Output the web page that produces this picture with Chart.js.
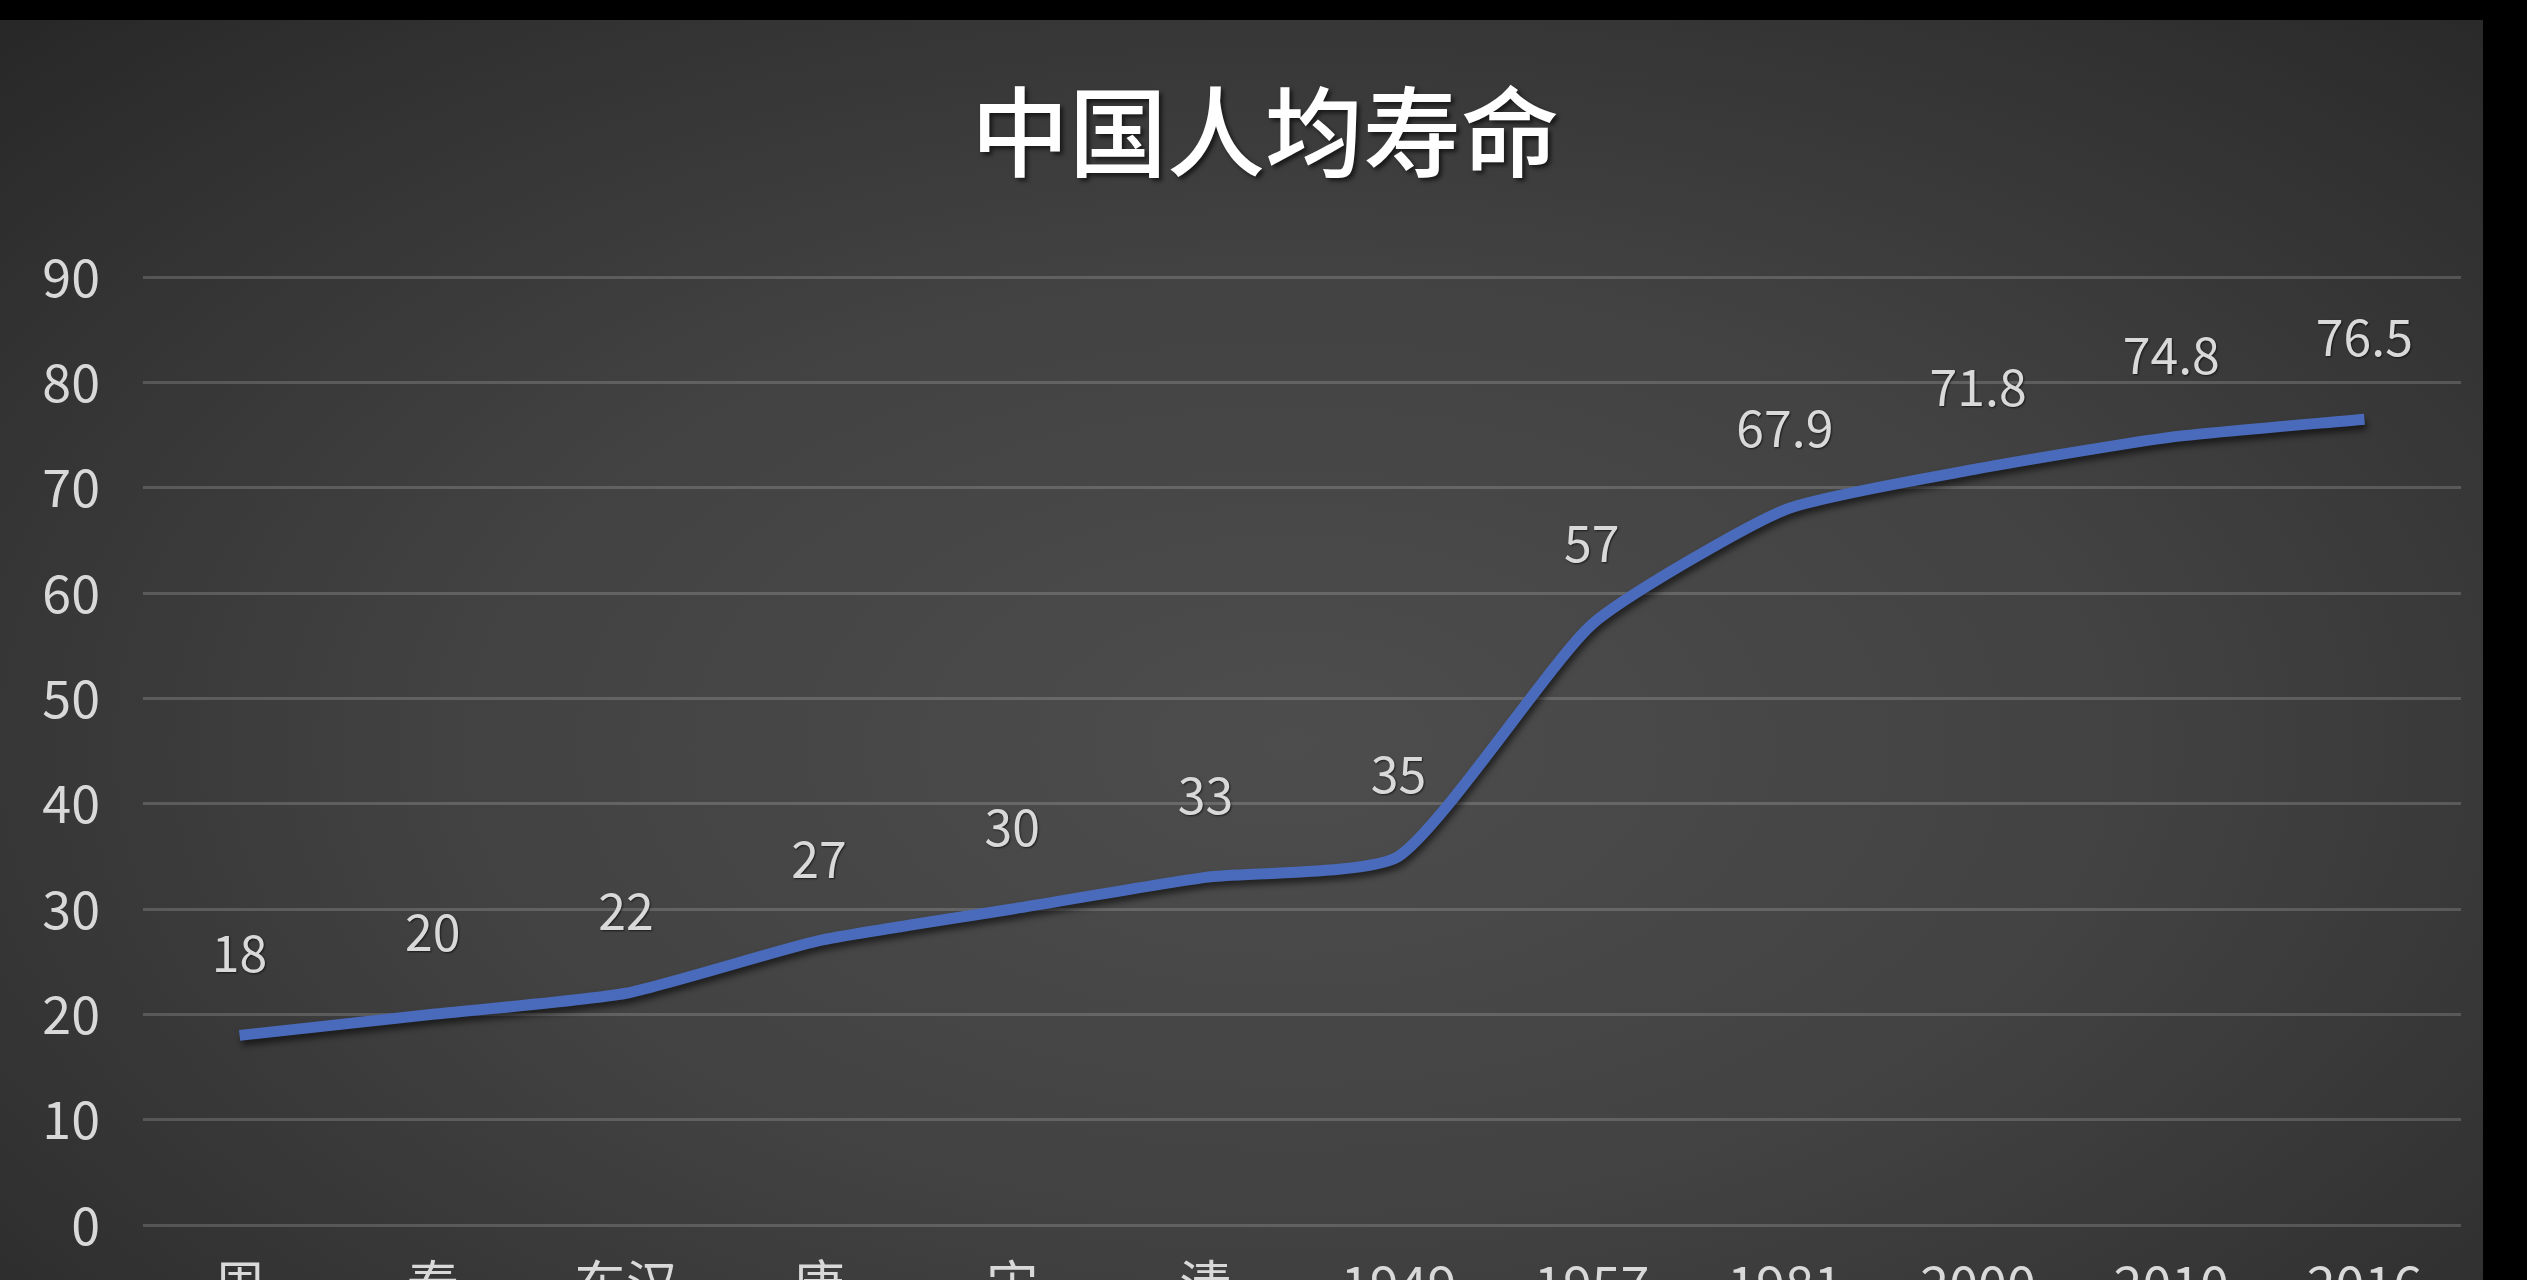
<!DOCTYPE html>
<html>
<head>
<meta charset="utf-8">
<script src="https://cdn.jsdelivr.net/npm/chart.js@4.4.1/dist/chart.umd.min.js"></script>
<style>
html,body{margin:0;padding:0;background:#000;overflow:hidden;width:2527px;height:1280px;}
#wrap{position:absolute;left:0;top:20px;width:2483px;height:1320px;
  background:radial-gradient(ellipse 75% 80% at 52% 55%, #4d4d4d 0%, #424242 45%, #313131 80%, #262626 100%);}
</style>
</head>
<body>
<div id="wrap"><canvas id="myChart" width="2483" height="1320"></canvas></div>
<script>
var chartTitle="中国人均寿命";
var labels=["周","秦","东汉","唐","宋","清","1949","1957","1981","2000","2010","2016"];
var lifeValues=[18,20,22,27,30,33,35,57,67.9,71.8,74.8,76.5];
var yMin=0,yMax=90,yStep=10;

var fontFam='"Noto Sans CJK SC", "Noto Sans", sans-serif';

// title + value labels drawn on the canvas
var extras={
  id:"extras",
  beforeDatasetDraw:function(chart){
    var ctx=chart.ctx;
    ctx.save();
    ctx.shadowColor="rgba(0,0,0,0.55)";
    ctx.shadowBlur=6;
    ctx.shadowOffsetX=2;
    ctx.shadowOffsetY=5;
  },
  afterDatasetDraw:function(chart){
    chart.ctx.restore();
  },
  afterDraw:function(chart){
    var ctx=chart.ctx;
    ctx.save();
    ctx.font="500 98px "+fontFam;
    ctx.textAlign="center";
    ctx.textBaseline="middle";
    ctx.shadowColor="rgba(0,0,0,0.6)";
    ctx.shadowBlur=4;
    ctx.shadowOffsetX=3;
    ctx.shadowOffsetY=3;
    ctx.fillStyle="#ffffff";
    ctx.fillText(chartTitle,1265,112);
    ctx.shadowBlur=2;
    ctx.shadowOffsetX=1;
    ctx.shadowOffsetY=1;
    ctx.font="50px "+fontFam;
    ctx.fillStyle="#d9d9d9";
    var meta=chart.getDatasetMeta(0);
    meta.data.forEach(function(pt,i){
      ctx.fillText(String(lifeValues[i]),pt.x,pt.y-82);
    });
    ctx.restore();
  }
};

var config={
  type:"line",
  data:{
    labels:labels,
    datasets:[{
      label:"人均寿命",
      data:lifeValues,
      borderColor:"#4a6bbb",
      borderWidth:11,
      pointRadius:0,
      tension:0.18,
      fill:false
    }]
  },
  options:{
    responsive:false,
    animation:false,
    devicePixelRatio:1,
    layout:{padding:{top:257,right:22,left:0,bottom:0}},
    plugins:{legend:{display:false},title:{display:false},tooltip:{enabled:false}},
    scales:{
      x:{
        offset:true,
        grid:{display:false,drawTicks:false},
        border:{display:false},
        ticks:{color:"#d9d9d9",padding:28,font:{family:fontFam,size:52},maxRotation:0},
        afterFit:function(s){s.height=115;}
      },
      y:{
        min:yMin,max:yMax,
        grid:{color:"rgba(255,255,255,0.17)",lineWidth:3,drawTicks:false},
        border:{display:false},
        ticks:{stepSize:yStep,color:"#d9d9d9",padding:43,font:{family:fontFam,size:52}},
        afterFit:function(s){s.width=143;}
      }
    }
  },
  plugins:[extras]
};
var myChart=new Chart(document.getElementById("myChart"),config);
</script>
</body>
</html>
